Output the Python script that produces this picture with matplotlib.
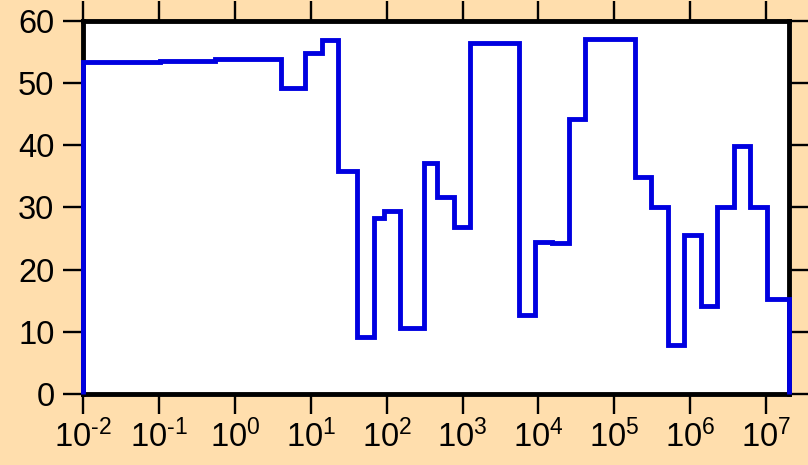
import matplotlib
matplotlib.use("Agg")
import matplotlib.pyplot as plt
import numpy as np
from matplotlib.ticker import FixedLocator, FixedFormatter, NullLocator

plt.rcParams['font.family'] = ['Liberation Sans', 'DejaVu Sans']
plt.rcParams['mathtext.fontset'] = 'custom'
plt.rcParams['mathtext.rm'] = 'Liberation Sans'

# bin edges (x, log scale) and step heights
bin_edges = [0.01, 0.104, 0.553, 4.06, 8.49, 14.1, 22.6, 40.7, 67.5, 91.4,
             151, 307, 461, 764, 1268, 5600, 9100, 15100, 25000, 41500,
             189000, 305000, 504000, 836000, 1.39e6, 2.25e6, 3.73e6, 6.19e6,
             1.03e7, 2.0e7]
bin_values = [53.4, 53.5, 53.8, 49.2, 54.8, 56.9, 35.9, 9.2, 28.3, 29.4,
              10.6, 37.1, 31.7, 26.8, 56.4, 12.7, 24.4, 24.2, 44.2, 57.0,
              34.9, 30.0, 7.9, 25.5, 14.1, 30.0, 39.8, 30.0, 15.3]

x_tick_exponents = [-2, -1, 0, 1, 2, 3, 4, 5, 6, 7]
x_tick_labels = [r"$\mathdefault{10^{%s}}$" % (r"\text{-}%d" % -e if e < 0 else "%d" % e)
                 for e in x_tick_exponents]
y_ticks = [0, 10, 20, 30, 40, 50, 60]
y_tick_labels = ["0", "10", "20", "30", "40", "50", "60"]

fig = plt.figure(figsize=(8.08, 4.65), dpi=100, facecolor='#FFDEAD')
ax = fig.add_axes([0.1027, 0.1527, 0.9765 - 0.1027, 0.9555 - 0.1527])
ax.set_facecolor('white')

patch = ax.stairs(bin_values, bin_edges, baseline=0, fill=False,
                  color='#0000e0', linewidth=3.5, zorder=5)
patch.set_joinstyle('miter')
patch.set_clip_on(False)

ax.set_xscale('log')
ax.set_xlim(1e-2, 2e7)
ax.set_ylim(0, 60)

ax.xaxis.set_major_locator(FixedLocator([10.0 ** e for e in x_tick_exponents]))
ax.xaxis.set_major_formatter(FixedFormatter(x_tick_labels))
ax.xaxis.set_minor_locator(NullLocator())
ax.yaxis.set_major_locator(FixedLocator(y_ticks))
ax.yaxis.set_major_formatter(FixedFormatter(y_tick_labels))
ax.yaxis.set_minor_locator(NullLocator())

ax.tick_params(axis='both', which='major', direction='out', length=14.5,
               width=1.7, labelsize=23.5, colors='black',
               top=True, right=True, labeltop=False, labelright=False)
ax.tick_params(axis='x', pad=4)
ax.tick_params(axis='y', pad=6)

for side in ['left', 'right', 'top', 'bottom']:
    ax.spines[side].set_linewidth(3.5)
    ax.spines[side].set_color('black')

fig.savefig('out.png', dpi=100, facecolor=fig.get_facecolor())
